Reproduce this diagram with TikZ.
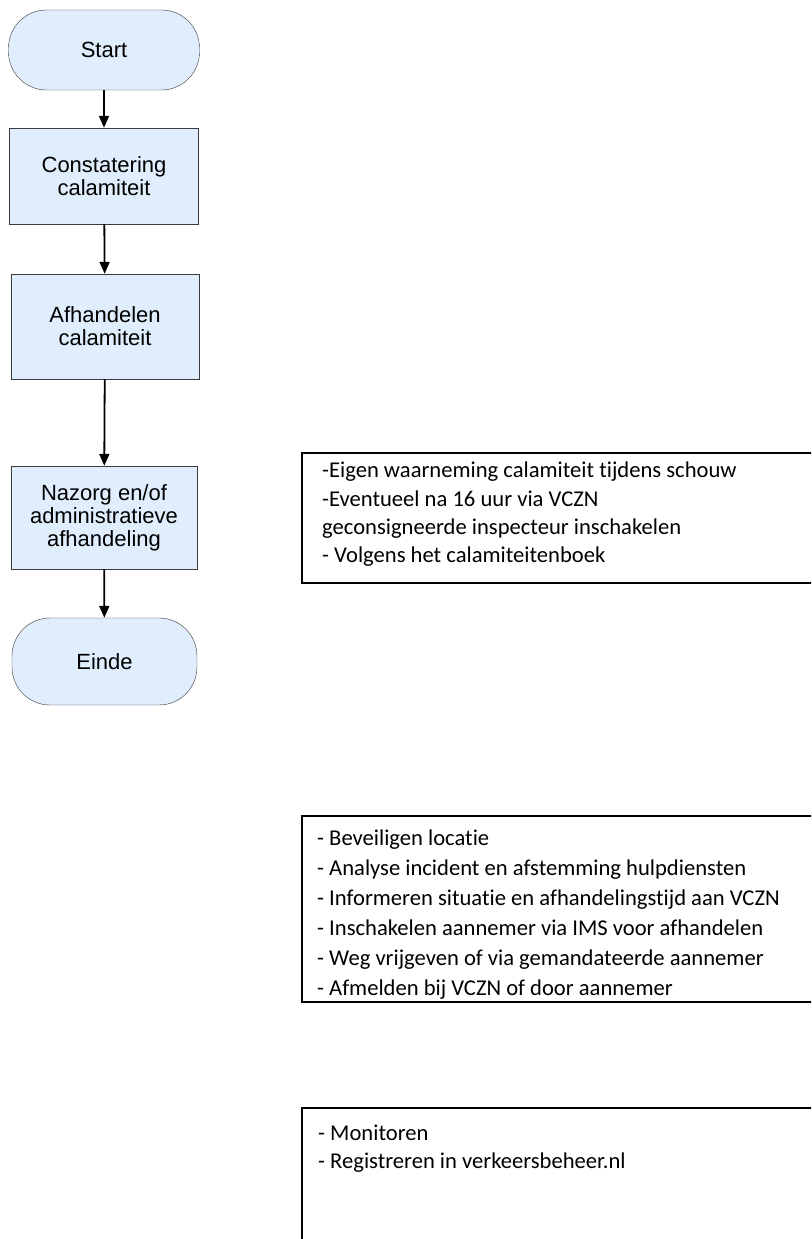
\documentclass[tikz,border=0pt]{standalone}
\usepackage{fontspec}
\setmainfont{Liberation Sans}
\newfontfamily\notefont[RawFeature={-liga;-clig;-calt;-dlig;-rlig}]{Carlito}
\usetikzlibrary{arrows.meta}
\definecolor{stepfill}{RGB}{223,237,253}
\definecolor{stepline}{RGB}{60,60,60}

\begin{document}
\begin{tikzpicture}[x=1pt, y=-1pt,
  every node/.style={font=\fontsize{22}{23}\selectfont, align=center, inner sep=0pt},
  terminal/.style={draw=stepline, fill=stepfill, rounded corners=38pt, minimum width=191pt, minimum height=80pt},
  stepbox/.style={draw=stepline, fill=stepfill, minimum width=189pt},
  flow/.style={-{Triangle[length=12pt,width=10pt]}, line width=1.8pt},
  notebox/.style={draw=black, line width=1.2pt},
  notetext/.style={anchor=north west, align=left, font=\notefont\fontsize{22.6}{#1}\selectfont}]
\clip (0,0) rectangle (811,1239);
\fill[white] (0,0) rectangle (811,1239);
% flow chart
\node[terminal] (start) at (104,50) {Start};
\node[stepbox, minimum height=96pt] (constatering) at (104,176) {Constatering\\calamiteit};
\node[stepbox, minimum width=188pt, minimum height=105pt] (afhandelen) at (105,326.5) {Afhandelen\\calamiteit};
\node[stepbox, minimum width=186pt, minimum height=103pt] (nazorg) at (104,517.5) {Nazorg en/of\\administratieve\\afhandeling};
\node[terminal, minimum width=185pt, minimum height=87pt] (einde) at (104.5,661.5) {Einde};
\draw[flow] (start) -- (constatering);
\draw[flow] (constatering) -- (afhandelen);
\draw[flow] (afhandelen) -- (nazorg);
\draw[flow] (nazorg) -- (einde);
% notes
\draw[notebox] (302,453) rectangle (830,583);
\node[notetext=28.3] (waarneming) at (322,462) {-Eigen waarneming calamiteit tijdens schouw\\-Eventueel na 16 uur via VCZN\\geconsigneerde inspecteur inschakelen\\- Volgens het calamiteitenboek};
\draw[notebox] (302,816) rectangle (830,1002);
\node[notetext=30] (locatie) at (317,830) {- Beveiligen locatie\\- Analyse incident en afstemming hulpdiensten\\- Informeren situatie en afhandelingstijd aan VCZN\\- Inschakelen aannemer via IMS voor afhandelen\\- Weg vrijgeven of via gemandateerde aannemer\\- Afmelden bij VCZN of door aannemer};
\draw[notebox] (302,1108) rectangle (830,1260);
\node[notetext=28] (monitoren) at (318,1125) {- Monitoren\\- Registreren in verkeersbeheer.nl};
\end{tikzpicture}
\end{document}
